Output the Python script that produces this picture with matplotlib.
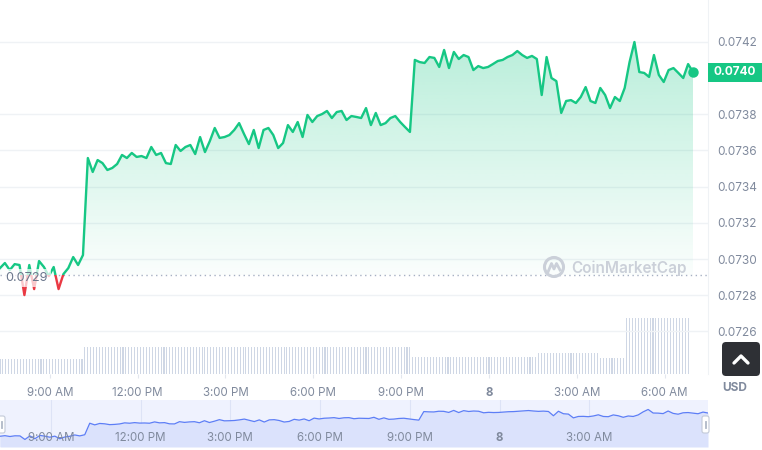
import numpy as np
import matplotlib
matplotlib.use('Agg')
import matplotlib.pyplot as plt
from matplotlib.patches import Rectangle, FancyBboxPatch, Circle, Polygon
from matplotlib.transforms import blended_transform_factory

plt.rcParams['font.family'] = ['Inter', 'DejaVu Sans']

# price every 10 minutes, starting 7:18 AM (hours counted from midnight of the 7th)
start_hour = 7.3
step_min = 10
prices = [
    0.072950, 0.072978, 0.072939, 0.072972, 0.072967, 0.072801, 0.072967, 0.072834,
    0.072989, 0.072956, 0.072906, 0.072956, 0.072834, 0.072917, 0.072950, 0.073011,
    0.072967, 0.073022, 0.073558, 0.073481, 0.073547, 0.073530, 0.073492, 0.073503,
    0.073525, 0.073575, 0.073558, 0.073586, 0.073564, 0.073569, 0.073558, 0.073619,
    0.073575, 0.073586, 0.073530, 0.073525, 0.073630, 0.073597, 0.073619, 0.073630,
    0.073580, 0.073674, 0.073591, 0.073652, 0.073724, 0.073669, 0.073674, 0.073685,
    0.073713, 0.073751, 0.073691, 0.073635, 0.073713, 0.073613, 0.073713, 0.073724,
    0.073685, 0.073613, 0.073641, 0.073740, 0.073702, 0.073757, 0.073674, 0.073796,
    0.073757, 0.073790, 0.073801, 0.073818, 0.073779, 0.073812, 0.073818, 0.073768,
    0.073790, 0.073785, 0.073779, 0.073834, 0.073740, 0.073807, 0.073740, 0.073751,
    0.073779, 0.073790, 0.073757, 0.073729, 0.073702, 0.074100, 0.074088, 0.074083,
    0.074116, 0.074111, 0.074061, 0.074155, 0.074055, 0.074144, 0.074105, 0.074127,
    0.074116, 0.074044, 0.074066, 0.074055, 0.074061, 0.074077, 0.074094, 0.074100,
    0.074116, 0.074127, 0.074149, 0.074127, 0.074111, 0.074122, 0.074105, 0.073906,
    0.074116, 0.074000, 0.073983, 0.073807, 0.073873, 0.073878, 0.073862, 0.073895,
    0.073950, 0.073873, 0.073862, 0.073945, 0.073906, 0.073834, 0.073895, 0.073873,
    0.073945, 0.074088, 0.074199, 0.074033, 0.074028, 0.074006, 0.074127, 0.074017,
    0.073978, 0.074044, 0.074055, 0.074028, 0.074000, 0.074077, 0.074033,
]
base_price = 0.07291

# volume bars every 6 minutes (millions), constant stretches
vol_step_min = 6
vol_levels = [1.5, 2.7, 1.7, 2.1, 1.6, 5.6]
vol_counts = [29, 112, 43, 21, 9, 22]

y_ticks = [0.0726, 0.0728, 0.0730, 0.0732, 0.0734, 0.0736, 0.0738, 0.0742]
x_ticks = [9, 12, 15, 18, 21, 24, 27, 30]
x_labels = ['9:00 AM', '12:00 PM', '3:00 PM', '6:00 PM', '9:00 PM', '8', '3:00 AM', '6:00 AM']
nav_ticks = x_ticks[:-1]
nav_labels = x_labels[:-1]

GREEN = '#16c784'
RED = '#ea3943'
GREY = '#808a9d'
GRID = '#eff2f5'

p = np.array(prices)
t = start_hour + np.arange(len(p)) * step_min / 60
vol = np.repeat(vol_levels, vol_counts)
tv = start_hour + np.arange(len(vol)) * vol_step_min / 60

W, H = 762, 450
fig = plt.figure(figsize=(W / 100, H / 100), dpi=100)
pos = [0, 1 - 374 / H, 708 / W, 374 / H]

# volume underneath
axv = fig.add_axes(pos, zorder=0)
axv.bar(tv, vol, width=vol_step_min / 60 * 0.36, color='#cfd7e5', align='center')
axv.set_ylim(0, 37.4)
axv.axis('off')

ax = fig.add_axes(pos, zorder=1)
ax.patch.set_visible(False)
x_end = t[0] + (t[-1] - t[0]) * 708 / 693
ax.set_xlim(t[0], x_end)
axv.set_xlim(t[0], x_end)
ylo, yhi = 0.072365, 0.074431
ax.set_ylim(ylo, yhi)

# gradient fill above baseline
top_g = np.maximum(p, base_price)
verts = np.column_stack([np.r_[t, t[::-1]], np.r_[top_g, np.full(len(t), base_price)]])
clip_g = Polygon(verts, closed=True, fc='none', ec='none')
ax.add_patch(clip_g)
grad = np.zeros((256, 1, 4))
grad[:, 0, :3] = matplotlib.colors.to_rgb(GREEN)
grad[:, 0, 3] = np.linspace(0.02, 0.30, 256)
im = ax.imshow(grad, extent=[t[0], t[-1], base_price, p.max()], origin='lower',
               aspect='auto', zorder=1, interpolation='bilinear')
im.set_clip_path(clip_g)

# faint red fill below baseline
bot_r = np.minimum(p, base_price)
verts_r = np.column_stack([np.r_[t, t[::-1]], np.r_[bot_r, np.full(len(t), base_price)]])
clip_r = Polygon(verts_r, closed=True, fc='none', ec='none')
ax.add_patch(clip_r)
grad_r = np.zeros((64, 1, 4))
grad_r[:, 0, :3] = matplotlib.colors.to_rgb(RED)
grad_r[:, 0, 3] = np.linspace(0.18, 0.0, 64)
im_r = ax.imshow(grad_r, extent=[t[0], t[-1], p.min(), base_price], origin='lower',
                 aspect='auto', zorder=1)
im_r.set_clip_path(clip_r)
ax.set_xlim(t[0], x_end)
ax.set_ylim(ylo, yhi)

# price line: green above baseline, red below
lg, = ax.plot(t, p, color=GREEN, lw=1.7, zorder=3, solid_joinstyle='round')
lg.set_clip_path(Rectangle((t[0] - 1, base_price), 40, 1, transform=ax.transData))
lr, = ax.plot(t, p, color=RED, lw=1.7, zorder=3, solid_joinstyle='round')
lr.set_clip_path(Rectangle((t[0] - 1, base_price - 1), 40, 1, transform=ax.transData))
ax.plot(t[-1], p[-1], 'o', ms=6.5, color=GREEN, zorder=4)

ax.axhline(base_price, color='#a6b0c3', lw=1, ls=(0, (1, 2.5)), zorder=2)
ax.text(0.007, base_price - 0.000014, '%.4f' % base_price,
        transform=blended_transform_factory(ax.transAxes, ax.transData),
        ha='left', va='center', fontsize=9.2, color='#6b778c', zorder=5,
        bbox=dict(boxstyle='square,pad=0.25', fc='white', ec='none', alpha=0.72))

# axes styling
ax.set_yticks(y_ticks)
ax.set_yticklabels(['%.4f' % v for v in y_ticks])
ax.yaxis.tick_right()
ax.yaxis.grid(True, color=GRID, lw=1)
ax.set_axisbelow(True)
ax.tick_params(axis='y', length=0, pad=7, labelsize=8.5, labelcolor=GREY)
ax.set_xticks(x_ticks)
ax.set_xticklabels(x_labels)
ax.tick_params(axis='x', length=3, color='#e3e7ee', pad=6, labelsize=8.3, labelcolor=GREY)
ax.get_xticklabels()[5].set_fontweight('bold')
for s in ['top', 'left', 'bottom']:
    ax.spines[s].set_visible(False)
ax.spines['right'].set_color(GRID)

# navigator
nav = fig.add_axes([0, 3 / H, 708 / W, 47 / H])
nav.set_facecolor('#eff2fe')
nav.set_xlim(t[0], t[-1])
nav.set_ylim(0.07245, 0.07464)
for xt in nav_ticks:
    nav.axvline(xt, color='#dde3f6', lw=0.8, zorder=1)
nav.fill_between(t, p, 0.07245, color='#dbe2fc', lw=0, zorder=2)
nav.plot(t, p, color='#5d7ef6', lw=0.9, zorder=3)
nav_tr = blended_transform_factory(nav.transData, nav.transAxes)
for xt, lab in zip(nav_ticks, nav_labels):
    nav.text(xt, 0.19, lab, transform=nav_tr, ha='center', va='center', fontsize=8.3,
             color=GREY, fontweight='bold' if lab == '8' else 'normal', zorder=4)
nav.set_xticks([])
nav.set_yticks([])
for s in nav.spines.values():
    s.set_visible(False)

# overlay in pixel coordinates for the decorations
ov = fig.add_axes([0, 0, 1, 1], zorder=10)
ov.set_xlim(0, W)
ov.set_ylim(H, 0)
ov.axis('off')

# current price tag
disp = ax.transData.transform((t[-1], p[-1]))
ytag = ov.transData.inverted().transform(disp)[1]
ov.add_patch(Rectangle((708, ytag - 9.5), 54, 19, fc=GREEN, ec='none'))
ov.text(735, ytag, '%.4f' % p[-1], ha='center', va='center', color='white',
        fontsize=8.5, fontweight='bold')

ov.text(735, 388, 'USD', ha='center', va='center', color=GREY, fontsize=8.5, fontweight='bold')

# scroll-to-top button
ov.add_patch(FancyBboxPatch((722, 342), 38, 34, boxstyle='round,pad=0,rounding_size=4',
                            fc='#2e3035', ec='none'))
ov.plot([734, 741, 748], [363, 356, 363], color='white', lw=2.4, solid_capstyle='round')

# watermark
wm = '#cbd0d9'
ov.add_patch(Circle((554, 267), 9.5, fill=False, ec=wm, lw=2.2))
ov.plot([548, 551.5, 554, 556.5, 560], [272, 263.5, 269, 263.5, 270], color=wm, lw=2.0)
ov.text(571, 268, 'CoinMarketCap', ha='left', va='center', fontsize=11, color=wm,
        fontweight='semibold')

# navigator handles
for hx in (-2, 702):
    ov.add_patch(FancyBboxPatch((hx, 416), 7, 17, boxstyle='round,pad=0,rounding_size=2',
                                fc='white', ec='#c3cad8', lw=0.8))
    ov.plot([hx + 2.7, hx + 2.7], [421, 428], color='#aab3c3', lw=0.6)
    ov.plot([hx + 4.3, hx + 4.3], [421, 428], color='#aab3c3', lw=0.6)

fig.savefig('out.png', dpi=100)
